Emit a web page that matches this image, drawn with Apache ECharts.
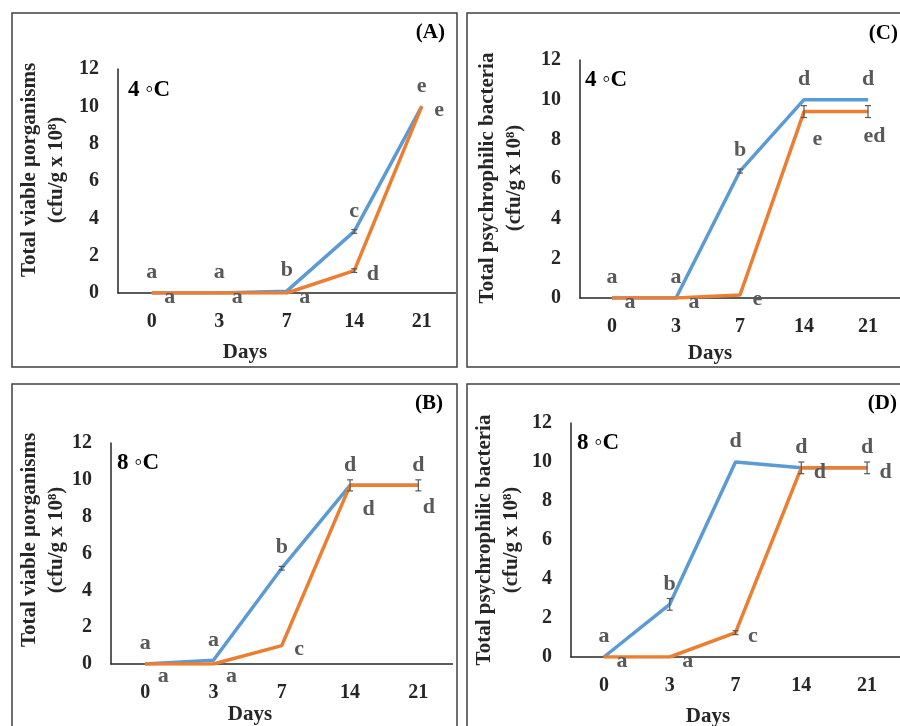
<!DOCTYPE html>
<html>
<head>
<meta charset="utf-8">
<script src="https://cdn.jsdelivr.net/npm/echarts@6/dist/echarts.min.js"></script>
<style>
  html, body { margin: 0; padding: 0; background: #fff; }
  #main { width: 900px; height: 726px; }
</style>
</head>
<body>
<div id="main"></div>
<script>
// days on the x axis
var days = ['0', '3', '7', '14', '21'];

// (A) total viable, 4 C
var blueA = [0, 0, 0.1, 3.3, 10];
var orangeA = [0, 0, 0, 1.2, 10];
var blueErrA = [0, 0, 0, 0.1, 0];
var orangeErrA = [0, 0, 0, 0.1, 0];
var blueLetA = ['a', 'a', 'b', 'c', 'e'];
var orangeLetA = ['a', 'a', 'a', 'd', 'e'];

// (C) psychrophilic, 4 C
var blueC = [0, 0, 6.4, 10, 10];
var orangeC = [0, 0, 0.15, 9.4, 9.4];
var blueErrC = [0, 0, 0.1, 0, 0];
var orangeErrC = [0, 0, 0, 0.3, 0.3];
var blueLetC = ['a', 'a', 'b', 'd', 'd'];
var orangeLetC = ['a', 'a', 'e', 'e', 'ed'];

// (B) total viable, 8 C
var blueB = [0, 0.2, 5.2, 9.7, 9.7];
var orangeB = [0, 0, 1.0, 9.7, 9.7];
var blueErrB = [0, 0, 0.1, 0, 0];
var orangeErrB = [0, 0, 0, 0.3, 0.3];
var blueLetB = ['a', 'a', 'b', 'd', 'd'];
var orangeLetB = ['a', 'a', 'c', 'd', 'd'];

// (D) psychrophilic, 8 C
var blueD = [0, 2.7, 10, 9.7, 9.7];
var orangeD = [0, 0, 1.25, 9.7, 9.7];
var blueErrD = [0, 0.3, 0, 0, 0];
var orangeErrD = [0, 0, 0.1, 0.3, 0.3];
var blueLetD = ['a', 'b', 'd', 'd', 'd'];
var orangeLetD = ['a', 'a', 'c', 'd', 'd'];

var FONT = '"Liberation Serif", "DejaVu Serif", serif';
var BLUE = '#5B9BD5';
var ORANGE = '#ED7D31';
var LETTER = '#595959';

var panels = [
  { grid: { left: 118, top: 69, width: 337.5, height: 224 },
    blue: blueA, orange: orangeA, blueErr: blueErrA, orangeErr: orangeErrA,
    blueLet: blueLetA, orangeLet: orangeLetA, shift: {} },
  { grid: { left: 580, top: 60, width: 331.5, height: 238 },
    blue: blueC, orange: orangeC, blueErr: blueErrC, orangeErr: orangeErrC,
    blueLet: blueLetC, orangeLet: orangeLetC, shift: { 3: [-4, 28], 4: [-17, 25] } },
  { grid: { left: 111, top: 443, width: 341.5, height: 221 },
    blue: blueB, orange: orangeB, blueErr: blueErrB, orangeErr: orangeErrB,
    blueLet: blueLetB, orangeLet: orangeLetB, shift: { 0: [0, 12], 1: [0, 12], 3: [0, 24], 4: [-8, 22] } },
  { grid: { left: 571, top: 423, width: 340, height: 234 },
    blue: blueD, orange: orangeD, blueErr: blueErrD, orangeErr: orangeErrD,
    blueLet: blueLetD, orangeLet: orangeLetD, shift: {} }
];

var letterStyle = { fontFamily: FONT, fontSize: 22, fontWeight: 'bold', color: LETTER };

function lineData(vals, lets, isOrange, shift) {
  return vals.map(function (v, i) {
    var label = { formatter: lets[i] };
    if (isOrange && shift[i]) label.offset = shift[i];
    return { value: v, label: label };
  });
}

function errData(vals, errs) {
  var out = [];
  vals.forEach(function (v, i) {
    if (errs[i] > 0) out.push([i, v, errs[i]]);
  });
  return out;
}

function renderErr(params, api) {
  var x = api.value(0), v = api.value(1), e = api.value(2);
  var hi = api.coord([x, v + e]);
  var lo = api.coord([x, v - e]);
  var w = 3;
  var st = { stroke: '#595959', lineWidth: 1.2 };
  return {
    type: 'group',
    children: [
      { type: 'line', shape: { x1: hi[0], y1: hi[1], x2: lo[0], y2: lo[1] }, style: st },
      { type: 'line', shape: { x1: hi[0] - w, y1: hi[1], x2: hi[0] + w, y2: hi[1] }, style: st },
      { type: 'line', shape: { x1: lo[0] - w, y1: lo[1], x2: lo[0] + w, y2: lo[1] }, style: st }
    ]
  };
}

var grids = [], xAxes = [], yAxes = [], series = [];
panels.forEach(function (p, k) {
  grids.push(p.grid);
  xAxes.push({
    type: 'category', gridIndex: k, data: days, boundaryGap: true,
    axisLine: { lineStyle: { color: '#262626', width: 1.5 } },
    axisTick: { show: false },
    axisLabel: { margin: 19, fontFamily: FONT, fontSize: 20, fontWeight: 'bold', color: '#262626' },
    splitLine: { show: false }
  });
  yAxes.push({
    type: 'value', gridIndex: k, min: 0, max: 12, interval: 2,
    axisLine: { show: true, lineStyle: { color: '#262626', width: 1.5 } },
    axisTick: { show: false },
    axisLabel: { margin: 19, fontFamily: FONT, fontSize: 20, fontWeight: 'bold', color: '#262626' },
    splitLine: { show: false }
  });
  series.push({
    type: 'line', xAxisIndex: k, yAxisIndex: k,
    data: lineData(p.blue, p.blueLet, false, p.shift),
    symbol: 'circle', symbolSize: 1, showSymbol: true,
    itemStyle: { color: BLUE },
    lineStyle: { color: BLUE, width: 3.5 },
    label: Object.assign({ show: true, position: 'top', distance: 9 }, letterStyle),
    animation: false, z: 2
  });
  series.push({
    type: 'line', xAxisIndex: k, yAxisIndex: k,
    data: lineData(p.orange, p.orangeLet, true, p.shift),
    symbol: 'circle', symbolSize: 1, showSymbol: true,
    itemStyle: { color: ORANGE },
    lineStyle: { color: ORANGE, width: 3.5 },
    label: Object.assign({ show: true, position: 'right', distance: 12, offset: [0, 4] }, letterStyle),
    animation: false, z: 3
  });
  series.push({
    type: 'custom', xAxisIndex: k, yAxisIndex: k,
    data: errData(p.blue, p.blueErr).concat(errData(p.orange, p.orangeErr)),
    encode: { x: 0, y: 1 },
    renderItem: renderErr, animation: false, z: 4
  });
});

function txt(x, y, text, size, extra) {
  return {
    type: 'text', x: x, y: y, rotation: extra && extra.rot ? extra.rot : 0,
    style: {
      text: text, fontFamily: FONT, fontSize: size, fontWeight: 'bold',
      fill: extra && extra.fill ? extra.fill : '#262626',
      align: extra && extra.align ? extra.align : 'center',
      verticalAlign: 'middle', lineHeight: extra && extra.lh ? extra.lh : size
    }
  };
}

var borderStyle = { fill: 'none', stroke: '#404040', lineWidth: 1.5 };
var graphics = [
  { type: 'rect', shape: { x: 12, y: 13, width: 445, height: 354 }, style: borderStyle },
  { type: 'rect', shape: { x: 467, y: 13, width: 445, height: 354 }, style: borderStyle },
  { type: 'rect', shape: { x: 12, y: 384, width: 445, height: 360 }, style: borderStyle },
  { type: 'rect', shape: { x: 467, y: 384, width: 445, height: 360 }, style: borderStyle },

  txt(445, 33, '(A)', 21, { align: 'right', fill: '#000' }),
  txt(898, 34, '(C)', 21, { align: 'right', fill: '#000' }),
  txt(443, 404, '(B)', 21, { align: 'right', fill: '#000' }),
  txt(897, 404, '(D)', 21, { align: 'right', fill: '#000' }),

  txt(128, 90, '4 \u25E6C', 23, { align: 'left', fill: '#000' }),
  txt(585, 80, '4 \u25E6C', 23, { align: 'left', fill: '#000' }),
  txt(117, 463, '8 \u25E6C', 23, { align: 'left', fill: '#000' }),
  txt(577, 443, '8 \u25E6C', 23, { align: 'left', fill: '#000' }),

  txt(245, 353, 'Days', 21),
  txt(710, 354, 'Days', 21),
  txt(250, 715, 'Days', 21),
  txt(708, 717, 'Days', 21),

  txt(43, 170, 'Total viable \u03BCorganisms\n(cfu/g x 10\u2078)', 21, { rot: Math.PI / 2, lh: 27 }),
  txt(501, 178, 'Total psychrophilic bacteria\n(cfu/g x 10\u2078)', 21, { rot: Math.PI / 2, lh: 27 }),
  txt(43, 540, 'Total viable \u03BCorganisms\n(cfu/g x 10\u2078)', 21, { rot: Math.PI / 2, lh: 27 }),
  txt(498, 540, 'Total psychrophilic bacteria\n(cfu/g x 10\u2078)', 21, { rot: Math.PI / 2, lh: 27 })
];

var myChart = echarts.init(document.getElementById('main'));
myChart.setOption({
  backgroundColor: '#fff',
  animation: false,
  grid: grids,
  xAxis: xAxes,
  yAxis: yAxes,
  series: series,
  graphic: graphics
});
</script>
</body>
</html>
